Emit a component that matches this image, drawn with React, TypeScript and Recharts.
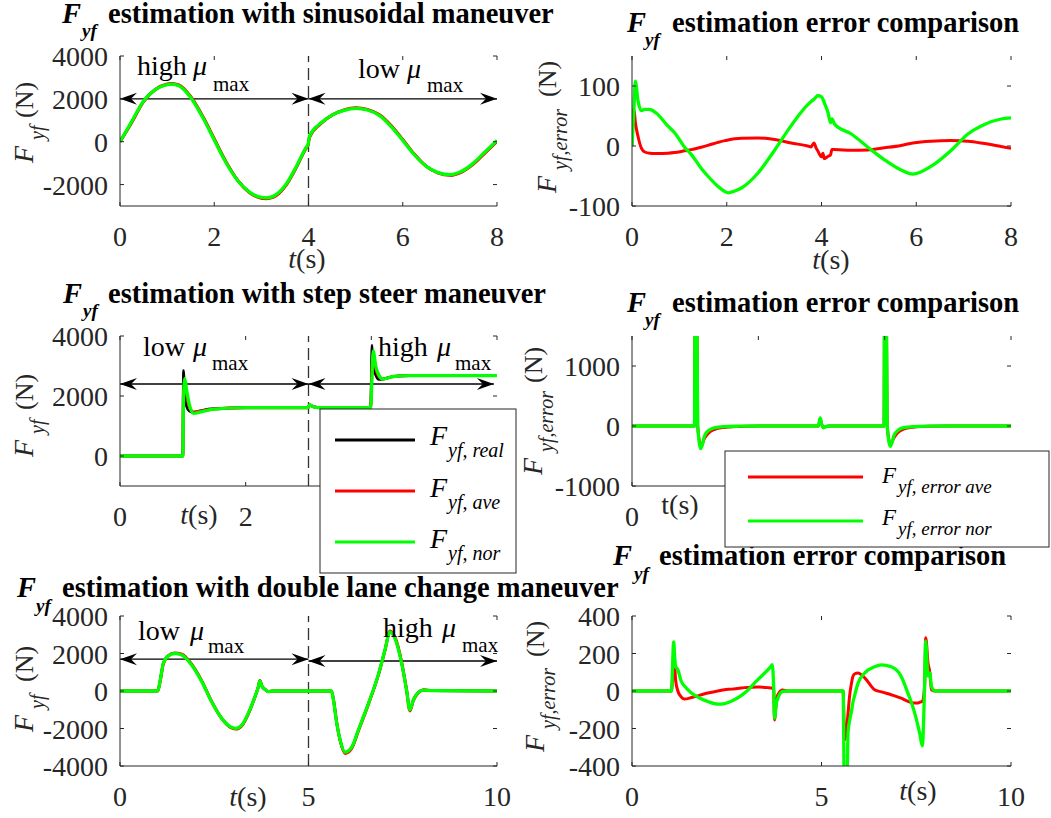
import React from 'react';
import { LineChart, Line, XAxis, YAxis, ReferenceLine } from 'recharts';

const FONT = "'Liberation Serif', 'Times New Roman', Times, serif";
const AX = '#262626';

// ---------- Panel 1: sinusoidal maneuver ----------
const sinT = [0, 0.25, 0.5, 0.75, 1.0, 1.1, 1.25, 1.5, 1.75, 2.0, 2.25, 2.5, 2.75, 3.0, 3.1, 3.25, 3.5, 3.75, 3.95, 3.99, 4.02, 4.25, 4.5, 4.75, 5.0, 5.25, 5.5, 5.75, 6.0, 6.25, 6.5, 6.75, 7.0, 7.25, 7.5, 7.75, 8.0];
const sinReal = [0, 930, 1890, 2440, 2670, 2700, 2620, 2080, 1180, 110, -960, -1810, -2360, -2620, -2640, -2570, -2080, -1140, -280, -150, 230, 840, 1240, 1470, 1570, 1490, 1250, 740, 80, -610, -1150, -1450, -1550, -1400, -1020, -490, 40];
const sinAve = [0, 900, 1870, 2440, 2690, 2720, 2650, 2110, 1210, 140, -940, -1810, -2380, -2640, -2660, -2600, -2110, -1170, -300, -170, 200, 820, 1240, 1480, 1590, 1510, 1270, 770, 110, -590, -1150, -1460, -1570, -1420, -1050, -520, 20];
const sinNor = [0, 950, 1900, 2430, 2660, 2690, 2610, 2060, 1150, 80, -980, -1820, -2350, -2600, -2620, -2550, -2060, -1120, -260, -130, 250, 850, 1240, 1460, 1560, 1480, 1230, 720, 60, -620, -1150, -1440, -1540, -1380, -1000, -470, 60];

// ---------- Panel 2: sinusoidal error ----------
const errT = [0, 0.04, 0.07, 0.13, 0.2, 0.27, 0.37, 0.51, 0.76, 0.9, 1.11, 1.25, 1.46, 1.6, 1.81, 1.96, 2.03, 2.17, 2.31, 2.66, 3.01, 3.36, 3.71, 3.78, 3.84, 3.89, 3.92, 4.0, 4.03, 4.06, 4.14, 4.19, 4.22, 4.28, 4.63, 4.98, 5.33, 5.68, 5.93, 6.31, 6.74, 7.09, 7.44, 7.79, 8.0];
const errAve = [0, 62, 40, 15, -4, -10, -12, -12.5, -12, -11, -8, -6, -2, 1, 6, 9, 10, 12, 13, 13.5, 11, 5, 0, -1.5, 5, -4, -8, -18, -12, -21, -17, -15, -6, -6, -7, -6.5, -3, 1, 5, 8, 9, 8, 4, -1, -4];
const errNor = [0, 60, 108, 74, 59, 61, 61, 55, 33, 22, -2, -14, -37, -50, -67, -76, -78, -75, -70, -45, -7, 34, 69, 74, 78, 82, 84, 82, 78, 72, 55, 39, 45, 36, 20, -2, -23, -40, -47, -34, -7, 20, 36, 45, 47];

// ---------- Panel 3: step steer ----------
const stepT = [0, 1.0, 1.01, 1.03, 1.06, 1.1, 1.17, 1.3, 1.5, 2.0, 2.99, 3.02, 3.08, 3.2, 3.99, 4.01, 4.03, 4.07, 4.12, 4.18, 4.35, 4.6, 6.0];
const stepReal = [0, 0, 2850, 2000, 1650, 1500, 1450, 1520, 1580, 1610, 1610, 1700, 1640, 1610, 1610, 3700, 3000, 2700, 2550, 2560, 2650, 2680, 2680];
const stepAve = [0, 0, 2200, 2450, 2050, 1650, 1470, 1500, 1570, 1610, 1610, 1700, 1640, 1610, 1610, 2900, 3400, 2900, 2650, 2570, 2650, 2680, 2680];
const stepNor = [0, 0, 1800, 2580, 2200, 1750, 1420, 1480, 1560, 1610, 1610, 1700, 1640, 1610, 1610, 2600, 3500, 3000, 2700, 2560, 2650, 2680, 2680];

// ---------- Panel 4: step steer error ----------
const stepErrT = [0, 0.99, 1.0, 1.02, 1.04, 1.09, 1.15, 1.22, 1.3, 1.45, 1.7, 2.0, 2.95, 2.98, 3.0, 3.03, 3.07, 3.12, 3.99, 4.0, 4.02, 4.04, 4.09, 4.15, 4.22, 4.3, 4.45, 4.7, 5.0, 6.0];
const stepErrAve = [0, 0, 2800, 2800, 0, -340, -200, -110, -60, -25, -8, 0, 0, 120, 40, -25, -8, 0, 0, 2800, 2800, 0, -300, -190, -100, -50, -20, -5, 0, 0];
const stepErrNor = [0, 0, 3000, 3000, 0, -378, -160, -70, -30, -10, -3, 0, 0, 135, 40, -30, -10, 0, 0, 3000, 3000, 0, -340, -150, -65, -28, -9, -2, 0, 0];

// ---------- Panel 5: double lane change ----------
const dlcT = [0, 1.0, 1.06, 1.15, 1.28, 1.45, 1.64, 1.9, 2.17, 2.43, 2.7, 2.92, 3.07, 3.23, 3.4, 3.58, 3.67, 3.71, 3.76, 3.85, 3.93, 4.05, 5.0, 5.61, 5.66, 5.75, 5.84, 5.97, 6.15, 6.32, 6.59, 6.85, 7.03, 7.16, 7.29, 7.47, 7.6, 7.69, 7.78, 7.91, 8.05, 8.27, 10];
const dlcReal = [0, 0, 520, 1490, 1880, 2010, 1930, 1400, 510, -560, -1460, -1910, -2000, -1830, -1210, -300, 240, 560, 270, 70, -30, 0, 0, 0, -460, -1720, -2630, -3280, -3000, -2100, -670, 850, 2200, 3170, 2840, 1500, 60, -1010, -470, -80, 60, 20, 0];
const dlcAve = [0, 0, 450, 1450, 1880, 2030, 1960, 1430, 540, -560, -1470, -1930, -2030, -1860, -1240, -320, 220, 560, 290, 90, -30, 0, 0, 0, -420, -1700, -2650, -3330, -3050, -2150, -700, 830, 2180, 3200, 2900, 1550, 80, -1060, -520, -110, 50, 20, 0];
const dlcNor = [0, 0, 500, 1480, 1875, 2000, 1920, 1390, 500, -570, -1460, -1900, -1990, -1820, -1200, -300, 230, 540, 270, 80, -30, 0, 0, 0, -480, -1730, -2620, -3260, -2980, -2090, -660, 860, 2200, 3150, 2820, 1480, 50, -1000, -480, -90, 50, 20, 0];

// ---------- Panel 6: double lane change error ----------
const dlcErrT = [0, 1.04, 1.1, 1.13, 1.15, 1.21, 1.3, 1.39, 1.57, 1.92, 2.0, 2.27, 2.44, 2.62, 2.88, 2.97, 3.32, 3.59, 3.68, 3.7, 3.74, 3.76, 3.81, 3.85, 3.98, 4.1, 5.57, 5.61, 5.66, 5.7, 5.74, 5.79, 5.83, 5.88, 5.96, 6.14, 6.4, 6.58, 6.84, 7.1, 7.28, 7.37, 7.46, 7.55, 7.59, 7.66, 7.72, 7.75, 7.81, 7.86, 7.9, 8.0, 10];
const dlcErrAve = [0, 0, 150, 123, 60, 0, -32, -43, -35, -15, -11, 0, 7, 10, 16, 18, 21, 18, 16, 15, 5, -154, -55, -20, 5, 0, 0, -260, -200, -120, -29, 40, 79, 92, 96, 70, 7, -5, -20, -38, -55, -61, -64, -64, -60, -55, 25, 284, 150, 96, 7, 0, 0];
const dlcErrNor = [0, 0, 262, 170, 132, 114, 52, 25, -11, -50, -56, -70, -67, -55, -25, -11, 61, 114, 135, 141, 7, -145, -64, -38, -2, 0, 0, -700, -700, -220, -160, -110, -60, -20, 40, 96, 129, 139, 129, 79, -11, -60, -118, -190, -225, -293, 25, 266, 79, 96, 25, 0, 0];

// ---------- axes ----------
const ticks8 = [0, 2, 4, 6, 8];
const ticks6 = [0, 2, 4, 6];
const ticks10 = [0, 5, 10];
const yTicks1 = [-2000, 0, 2000, 4000];
const yTicks2 = [-100, 0, 100];
const yTicks3 = [0, 2000, 4000];
const yTicks4 = [-1000, 0, 1000];
const yTicks5 = [-4000, -2000, 0, 2000, 4000];
const yTicks6 = [-400, -200, 0, 200, 400];
// tick labels that sit under a legend box in the original
const hidden3 = [4, 6];
const hidden4 = [2, 4, 6];

const zip = (t: number[], cols: Record<string, number[]>) =>
  t.map((tv, i) => {
    const r: any = { t: tv };
    Object.keys(cols).forEach((k) => (r[k] = cols[k][i]));
    return r;
  });

const d1 = zip(sinT, { real: sinReal, ave: sinAve, nor: sinNor });
const d2 = zip(errT, { ave: errAve, nor: errNor });
const d3 = zip(stepT, { real: stepReal, ave: stepAve, nor: stepNor });
const d4 = zip(stepErrT, { ave: stepErrAve, nor: stepErrNor });
const d5 = zip(dlcT, { real: dlcReal, ave: dlcAve, nor: dlcNor });
const d6 = zip(dlcErrT, { ave: dlcErrAve, nor: dlcErrNor });

const S3 = [
  { key: 'real', color: '#000000', w: 2.6 },
  { key: 'ave', color: '#ff0000', w: 3 },
  { key: 'nor', color: '#00ff00', w: 3.3 },
];
const S2 = [
  { key: 'ave', color: '#ff0000', w: 3 },
  { key: 'nor', color: '#00ff00', w: 3.3 },
];

const ArrowShape = (p: any) => {
  const { x1, y1, x2, y2 } = p;
  const L = 17, W = 6, N = 11;
  return (
    <g>
      <line x1={x1} y1={y1} x2={x2} y2={y2} stroke="#000" strokeWidth={1.3} />
      <path d={`M${x1},${y1} L${x1 + L},${y1 - W} L${x1 + N},${y1} L${x1 + L},${y1 + W} Z`} fill="#000" />
      <path d={`M${x2},${y2} L${x2 - L},${y2 - W} L${x2 - N},${y2} L${x2 - L},${y2 + W} Z`} fill="#000" />
    </g>
  );
};

const arrow = (k: string, xa: number, xb: number, y: number) => (
  <ReferenceLine key={k} segment={[{ x: xa, y }, { x: xb, y }]} ifOverflow="visible" shape={ArrowShape} />
);
const dash = (k: string, x: number) => (
  <ReferenceLine key={k} x={x} stroke="#333" strokeWidth={1.3} strokeDasharray="12 6" ifOverflow="visible" />
);

type PanelProps = {
  left: number; top: number; width: number; height: number;
  yw: number; mr: number; mt: number; xh: number;
  data: any[]; xDomain: [number, number]; xTicks: number[];
  yDomain: [number, number]; yTicks: number[];
  series: { key: string; color: string; w: number }[];
  clip?: boolean; extras?: React.ReactNode[]; hideX?: number[];
};

function Panel(p: PanelProps) {
  const plotTop = p.mt;
  const plotBottom = p.height - p.xh;
  const plotLeft = p.yw;
  const plotRight = p.width - p.mr;
  const hide = p.hideX ?? [];
  const xTick = (tp: any) => (
    <g>
      <line x1={tp.x} x2={tp.x} y1={plotBottom} y2={plotBottom - 4} stroke={AX} />
      <line x1={tp.x} x2={tp.x} y1={plotTop} y2={plotTop + 4} stroke={AX} />
      {hide.includes(tp.payload.value) ? null : (
        <text x={tp.x} y={plotBottom + 40} textAnchor="middle" fontFamily={FONT} fontSize={28} fill={AX}>
          {tp.payload.value}
        </text>
      )}
    </g>
  );
  const yTick = (tp: any) => (
    <g>
      <line x1={plotLeft} x2={plotLeft + 4} y1={tp.y} y2={tp.y} stroke={AX} />
      <line x1={plotRight} x2={plotRight - 4} y1={tp.y} y2={tp.y} stroke={AX} />
      <text x={plotLeft - 12} y={tp.y + 10} textAnchor="end" fontFamily={FONT} fontSize={28} fill={AX}>
        {tp.payload.value}
      </text>
    </g>
  );
  return (
    <div style={{ position: 'absolute', left: p.left, top: p.top, width: p.width, height: p.height }}>
      <LineChart width={p.width} height={p.height} data={p.data} margin={{ top: p.mt, right: p.mr, bottom: 0, left: 0 }}>
        <XAxis dataKey="t" type="number" domain={p.xDomain} ticks={p.xTicks} interval={0} height={p.xh}
          tickLine={false} axisLine={{ stroke: AX }} tick={xTick} allowDataOverflow />
        <YAxis type="number" domain={p.yDomain} ticks={p.yTicks} interval={0} width={p.yw}
          tickLine={false} axisLine={{ stroke: AX }} tick={yTick} allowDataOverflow={!!p.clip} />
        <XAxis xAxisId="top" orientation="top" type="number" domain={p.xDomain} height={0}
          tick={false} tickLine={false} axisLine={{ stroke: AX }} />
        <YAxis yAxisId="right" orientation="right" type="number" domain={p.yDomain} width={0}
          tick={false} tickLine={false} axisLine={{ stroke: AX }} />
        {p.extras}
        {p.series.map((s) => (
          <Line key={s.key} type="monotone" dataKey={s.key} stroke={s.color} strokeWidth={s.w}
            dot={false} isAnimationActive={false} />
        ))}
      </LineChart>
    </div>
  );
}

const T = (p: { x: number; y: number; s?: number; b?: boolean; i?: boolean; a?: string; fill?: string; children: React.ReactNode }) => (
  <text x={p.x} y={p.y} fontFamily={FONT} fontSize={p.s ?? 28} fontWeight={p.b ? 'bold' : 'normal'}
    fontStyle={p.i ? 'italic' : 'normal'} textAnchor={(p.a as any) ?? 'start'} fill={p.fill ?? '#000'}>
    {p.children}
  </text>
);

const Title = ({ fx, fy, sx, sy, tx, text }: any) => (
  <g>
    <T x={fx} y={fy} s={28.5} b i>F</T>
    <T x={sx} y={sy} s={19} b i>yf</T>
    <T x={tx} y={fy} s={28.5} b>{text}</T>
  </g>
);

const YLab = ({ bx, by, sub, nx }: any) => (
  <g transform={`translate(${bx},${by}) rotate(-90)`}>
    <T x={0} y={0} s={28} i fill={AX}>F</T>
    <T x={23} y={11} s={20} i fill={AX}>{sub}</T>
    <T x={nx} y={0} s={26} fill={AX}>(N)</T>
  </g>
);

const XLab = ({ x, y, italic = true }: any) => (
  <text x={x} y={y} fontFamily={FONT} fontSize={28} fill={AX} textAnchor="middle">
    <tspan fontStyle={italic ? 'italic' : 'normal'}>t</tspan>(s)
  </text>
);

const Mu = ({ wx, wy, word, mx, sx, sy }: any) => (
  <g>
    <T x={wx} y={wy}>{word}</T>
    <T x={mx} y={wy} i>μ</T>
    <T x={sx} y={sy} s={21}>max</T>
  </g>
);

export default function App() {
  return (
    <div style={{ position: 'absolute', left: 0, top: 0, width: 1051, height: 818, background: '#fff', overflow: 'hidden' }}>
      <Panel left={0} top={0} width={520} height={270} yw={120} mr={23} mt={56} xh={64}
        data={d1} xDomain={[0, 8]} xTicks={ticks8} yDomain={[-3000, 4000]} yTicks={yTicks1} series={S3}
        extras={[dash('d', 4), arrow('a1', 0, 4, 2000), arrow('a2', 4, 8, 2000)]} />
      <Panel left={520} top={0} width={531} height={270} yw={112} mr={40} mt={56} xh={64}
        data={d2} xDomain={[0, 8]} xTicks={ticks8} yDomain={[-100, 150]} yTicks={yTicks2} series={S2} clip />
      <Panel left={0} top={280} width={520} height={270} yw={120} mr={23} mt={56} xh={64}
        data={d3} xDomain={[0, 6]} xTicks={ticks6} yDomain={[-1000, 4000]} yTicks={yTicks3} series={S3}
        hideX={hidden3}
        extras={[dash('d', 3), arrow('a1', 0, 3, 2400), arrow('a2', 3, 5.95, 2400)]} />
      <Panel left={520} top={280} width={531} height={270} yw={112} mr={40} mt={56} xh={64}
        data={d4} xDomain={[0, 6]} xTicks={ticks6} yDomain={[-1000, 1500]} yTicks={yTicks4} series={S2} clip
        hideX={hidden4} />
      <Panel left={0} top={560} width={520} height={258} yw={120} mr={23} mt={56} xh={52}
        data={d5} xDomain={[0, 10]} xTicks={ticks10} yDomain={[-4000, 4000]} yTicks={yTicks5} series={S3}
        extras={[dash('d', 5), arrow('a1', 0, 5, 1700), arrow('a2', 5, 10, 1600)]} />
      <Panel left={520} top={560} width={531} height={258} yw={112} mr={40} mt={56} xh={52}
        data={d6} xDomain={[0, 10]} xTicks={ticks10} yDomain={[-400, 400]} yTicks={yTicks6} series={S2} clip />

      <svg style={{ position: 'absolute', left: 0, top: 0, pointerEvents: 'none' }} width={1051} height={818}>
        {/* titles */}
        <Title fx={62} fy={23} sx={82} sy={37} tx={108} text="estimation with sinusoidal maneuver" />
        <Title fx={627} fy={32} sx={645} sy={46} tx={672} text="estimation error comparison" />
        <Title fx={63} fy={303} sx={83} sy={317} tx={108} text="estimation with step steer maneuver" />
        <Title fx={627} fy={312} sx={645} sy={326} tx={672} text="estimation error comparison" />
        <Title fx={17} fy={597} sx={36} sy={612} tx={62} text="estimation with double lane change maneuver" />
        <Title fx={613} fy={565} sx={634} sy={580} tx={659} text="estimation error comparison" />

        {/* y labels */}
        <YLab bx={33} by={163} sub="yf" nx={45} />
        <YLab bx={556} by={193} sub="yf,error" nx={96} />
        <YLab bx={33} by={457} sub="yf" nx={47} />
        <YLab bx={542} by={475} sub="yf,error" nx={92} />
        <YLab bx={33} by={732} sub="yf" nx={50} />
        <YLab bx={544} by={752} sub="yf,error" nx={95} />

        {/* x labels */}
        <XLab x={307} y={268} />
        <XLab x={831} y={269} />
        <XLab x={199} y={524} />
        <XLab x={680} y={514} italic={false} />
        <XLab x={248} y={806} />
        <XLab x={918} y={800} />

        {/* annotations */}
        <Mu wx={137} wy={75} word="high" mx={193} sx={213} sy={91} />
        <Mu wx={358} wy={78} word="low" mx={407} sx={427} sy={92} />
        <Mu wx={143} wy={356} word="low" mx={193} sx={212} sy={370} />
        <Mu wx={378} wy={356} word="high" mx={437} sx={455} sy={370} />
        <Mu wx={138} wy={640} word="low" mx={190} sx={208} sy={653} />
        <Mu wx={383} wy={637} word="high" mx={442} sx={462} sy={652} />

        {/* legend of step steer plot */}
        <rect x={320} y={409} width={196} height={164} fill="#fff" stroke={AX} strokeWidth={1} />
        <line x1={335} x2={415} y1={440} y2={440} stroke="#000" strokeWidth={3} />
        <line x1={335} x2={415} y1={491} y2={491} stroke="#ff0000" strokeWidth={3} />
        <line x1={335} x2={415} y1={542} y2={542} stroke="#00ff00" strokeWidth={3} />
        <T x={430} y={445} i>F</T>
        <T x={448} y={457} s={20} i>yf, real</T>
        <T x={430} y={497} i>F</T>
        <T x={448} y={509} s={20} i>yf, ave</T>
        <T x={430} y={548} i>F</T>
        <T x={448} y={560} s={20} i>yf, nor</T>

        {/* legend of step steer error plot */}
        <rect x={725} y={451} width={324} height={96} fill="#fff" stroke={AX} strokeWidth={1} />
        <line x1={748} x2={863} y1={477} y2={477} stroke="#ff0000" strokeWidth={3} />
        <line x1={748} x2={863} y1={521} y2={521} stroke="#00ff00" strokeWidth={3} />
        <T x={882} y={483} s={23} i>F</T>
        <T x={898} y={493} s={19} i>yf, error ave</T>
        <T x={882} y={525} s={23} i>F</T>
        <T x={898} y={535} s={19} i>yf, error nor</T>
      </svg>
    </div>
  );
}
